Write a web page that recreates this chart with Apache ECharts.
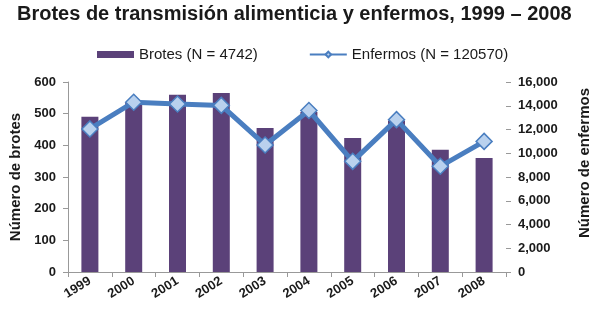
<!DOCTYPE html>
<html><head><meta charset="utf-8">
<script src="https://cdn.jsdelivr.net/npm/echarts@6/dist/echarts.min.js"></script>
<style>html,body{margin:0;padding:0;background:#fff}#c{width:600px;height:322px}</style>
</head><body><div id="c"></div>
<script>
const years = ['1999','2000','2001','2002','2003','2004','2005','2006','2007','2008'];
const brotes = [490, 535, 560, 565, 455, 505, 423, 478, 386, 360];
const enfermos = [12050, 14300, 14150, 14030, 10700, 13600, 9320, 12830, 8900, 11000];
const leftTicks = [0, 100, 600];
const rightTicks = [0, 2000, 16000];

const chart = echarts.init(document.getElementById('c'));
const font = '"Liberation Sans", Arial, sans-serif';
chart.setOption({
  animation: false,
  textStyle: {fontFamily: font},
  title: {
    text: 'Brotes de transmisión alimenticia y enfermos, 1999 – 2008',
    left: 12, top: -1,
    textStyle: {fontFamily: font, fontWeight: 'bold', fontSize: 20, color: '#1a1a1a'}
  },
  legend: {
    top: 42, left: 92, itemGap: 51, itemWidth: 37, itemHeight: 7,
    textStyle: {fontFamily: font, fontSize: 15, color: '#1a1a1a'},
    data: [
      {name: 'Brotes (N = 4742)', icon: 'rect'},
      {name: 'Enfermos (N = 120570)'}
    ]
  },
  grid: {left: 68, right: 92, top: 82, bottom: 50},
  xAxis: {
    type: 'category', data: years,
    axisLine: {lineStyle: {color: '#999', width: 1}},
    axisTick: {show: true, alignWithLabel: false, length: 5, lineStyle: {color: '#999'}},
    axisLabel: {rotate: 32, fontSize: 13, fontWeight: 'bold', color: '#1a1a1a', margin: 8, fontFamily: font}
  },
  yAxis: [
    {
      type: 'value', min: leftTicks[0], max: leftTicks[2], interval: leftTicks[1],
      name: 'Número de brotes', nameLocation: 'middle', nameGap: 42, nameRotate: 90,
      nameTextStyle: {fontFamily: font, fontSize: 15, fontWeight: 'bold', color: '#1a1a1a'},
      axisLine: {show: true, lineStyle: {color: '#999'}},
      axisTick: {show: true, length: 5, lineStyle: {color: '#999'}},
      axisLabel: {fontSize: 13, fontWeight: 'bold', color: '#1a1a1a', margin: 12, fontFamily: font},
      splitLine: {show: false}
    },
    {
      type: 'value', min: rightTicks[0], max: rightTicks[2], interval: rightTicks[1],
      name: 'Número de enfermos', nameLocation: 'middle', nameGap: 71, nameRotate: 90,
      nameTextStyle: {fontFamily: font, fontSize: 15, fontWeight: 'bold', color: '#1a1a1a', padding: [0, 0, 0, 28]},
      axisLine: {show: false},
      axisTick: {show: true, length: 5, inside: false, lineStyle: {color: '#999'}},
      axisLabel: {fontSize: 13, fontWeight: 'bold', color: '#1a1a1a', margin: 12, fontFamily: font,
        formatter: v => v.toLocaleString('en-US')},
      splitLine: {show: false}
    }
  ],
  series: [
    {
      name: 'Brotes (N = 4742)', type: 'bar', data: brotes, yAxisIndex: 0,
      barWidth: 17, itemStyle: {color: '#5b4179'}
    },
    {
      name: 'Enfermos (N = 120570)', type: 'line', data: enfermos, yAxisIndex: 1,
      symbol: 'diamond', symbolSize: 16,
      lineStyle: {color: '#4a7ec0', width: 5},
      itemStyle: {color: '#b9d1ee', borderColor: '#4a7ec0', borderWidth: 1.5}
    }
  ]
});
</script></body></html>
